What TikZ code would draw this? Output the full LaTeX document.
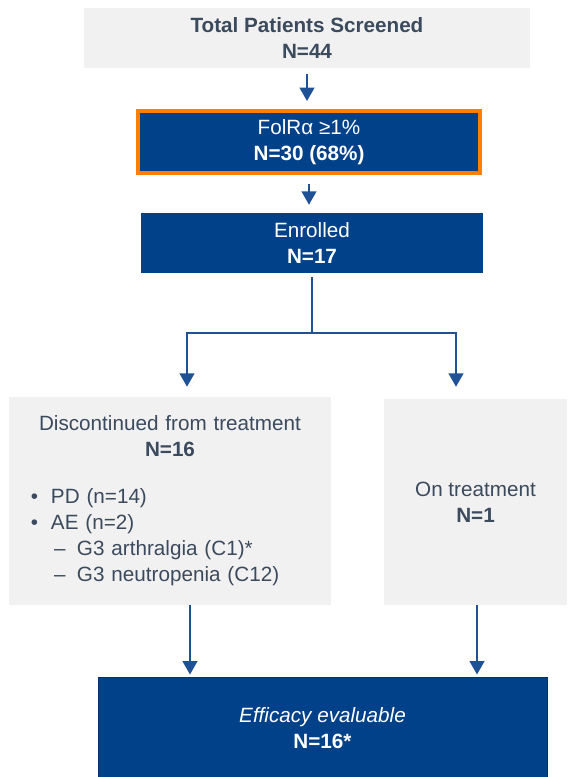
\documentclass[tikz,border=0pt]{standalone}
\usepackage{fontspec}
\setmainfont{Liberation Sans}
\usepackage{tikz}
\usetikzlibrary{arrows.meta,calc}
\definecolor{boxgrey}{HTML}{F1F1F1}
\definecolor{slate}{HTML}{3B4A5D}
\definecolor{navy}{HTML}{00418A}
\definecolor{navyedge}{HTML}{00336E}
\definecolor{frame}{HTML}{FF7F00}
\definecolor{linkblue}{HTML}{1F5197}
\newcommand{\pitem}[1]{\hspace*{16.5pt}\makebox[15pt][l]{•}#1}
\newcommand{\psub}[1]{\hspace*{33.75pt}\makebox[17.25pt][l]{–}#1}

\begin{document}
\begin{tikzpicture}[x=0.75pt,y=-0.75pt,
  font=\fontsize{15.5}{19.5}\selectfont,
  greybox/.style={fill=boxgrey, text=slate, inner sep=0pt, align=center},
  bluebox/.style={fill=navy, text=white, inner sep=0pt, align=center},
  link/.style={draw=linkblue, line width=1.4pt, -{Triangle[width=11pt,length=10pt]}},
  trunk/.style={draw=linkblue, line width=1.4pt}]
\useasboundingbox (0,0) rectangle (567,777);

% boxes
\node[greybox, minimum width=334.5pt, minimum height=45pt, font=\fontsize{15.5}{19.5}\selectfont\bfseries] (total) at (307,38) {Total Patients Screened\\N=44};
\node[bluebox, draw=frame, line width=3pt, minimum width=256.5pt, minimum height=46.5pt] (folr) at (309,142) {FolRα ≥1\%\\\textbf{N=30 (68\%)}};
\node[bluebox, minimum width=256.5pt, minimum height=45pt] (enrolled) at (312,243) {Enrolled\\\textbf{N=17}};
\node[greybox, minimum width=241.5pt, minimum height=156pt, text width=241.5pt] (disc) at (170,501) {%
  Discontinued from treatment\\\textbf{N=16}\par\vspace{15.75pt}
  {\raggedright
  \pitem{PD (n=14)}\\
  \pitem{AE (n=2)}\\
  \psub{G3 arthralgia (C1)*}\\
  \psub{G3 neutropenia (C12)}\par}};
\node[greybox, minimum width=137.25pt, minimum height=154.5pt] (ontr) at (475.5,502) {On treatment\\\textbf{N=1}};
\node[bluebox, draw=navyedge, line width=0.75pt, minimum width=336.75pt, minimum height=77.25pt] (eff) at (322.5,728.5) {\textit{Efficacy evaluable}\\\textbf{N=16*}};

% connectors
\coordinate (split) at (312,333);
\coordinate (discout) at ($(disc.south)+(20,0)$);
\coordinate (ontrout) at ($(ontr.south)+(1.5,0)$);
\draw[link, shorten <=4.5pt, shorten >=6pt] (total.south) -- (total.south |- folr.north);
\draw[link, shorten <=6.75pt, shorten >=6pt] (folr.south) -- (folr.south |- enrolled.north);
\draw[trunk, shorten <=3pt] (enrolled.south) -- (split);
\draw[link, shorten >=7.5pt] (split) -| ($(disc.north)+(17,0)$);
\draw[link, shorten >=9pt] (split) -| ($(ontr.north)+(-19.5,0)$);
\draw[link, shorten >=1.5pt] (discout) -- (discout |- eff.north);
\draw[link, shorten >=1.5pt] (ontrout) -- (ontrout |- eff.north);
\end{tikzpicture}
\end{document}
